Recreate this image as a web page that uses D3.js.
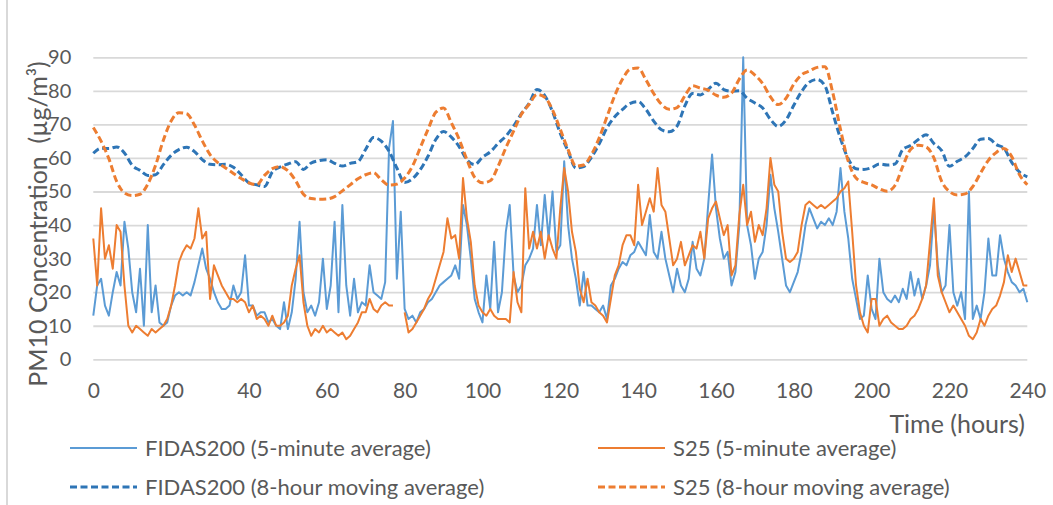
<!DOCTYPE html>
<html lang="en">
<head>
<meta charset="UTF-8">
<title>PM10 concentration</title>
<script src="https://cdn.jsdelivr.net/npm/d3@7"></script>
<style>
  body { margin: 0; background: #fff; }
  svg text { font-family: Lato, "Open Sans", sans-serif; fill: #595959; }
</style>
</head>
<body>
<svg id="chart" width="1053" height="505"></svg>
<script>
// 5-minute series, read once per hour from 0 to 240 h
var fidas5min = [
  13,22,24,16,13,20,26,22,41,33,
  20,14,27,10,40,14,22,11,10,11,
  16,19,20,19,20,19,23,28,33,27,
  24,20,17,15,15,16,22,18,20,31,
  16,16,13,14,14,11,12,10,9,17,
  9,14,24,41,20,14,16,13,17,30,
  15,22,41,14,46,22,13,24,14,17,
  16,28,20,19,18,23,63,71,24,44,
  15,12,13,11,14,15,17,18,20,22,
  23,24,25,28,24,46,40,30,18,14,
  11,25,15,35,14,20,38,46,25,20,
  22,28,30,33,46,34,49,36,50,32,
  34,59,40,30,24,16,26,16,16,15,
  14,16,12,22,24,27,29,28,31,32,
  35,33,31,43,32,30,38,30,25,20,
  27,22,20,24,35,27,25,30,46,61,
  45,36,30,32,22,26,40,90,40,34,
  24,30,32,40,55,45,38,30,22,20,
  23,26,32,40,45,42,39,41,40,42,
  40,44,57,44,36,24,18,12,13,25,
  15,12,30,20,18,17,19,17,21,18,
  26,19,24,18,22,28,45,28,20,22,
  40,20,16,20,12,50,12,16,12,20,
  36,25,25,37,30,26,23,22,20,21,
  17
];
var s25_5min = [
  36,22,45,30,34,27,40,38,22,10,
  8,10,9,8,7,9,8,9,10,12,
  16,22,29,32,34,33,36,45,36,38,
  18,28,25,22,20,18,18,17,18,17,
  14,16,12,13,12,10,13,10,10,11,
  13,22,27,31,17,10,7,9,8,10,
  8,9,8,7,8,6,7,9,11,14,
  14,18,15,14,16,17,16,16,null,null,
  14,8,9,11,13,15,18,20,24,28,
  32,42,36,37,30,54,42,35,22,16,
  14,13,15,13,12,12,12,11,26,17,
  14,51,33,38,33,38,30,37,33,30,
  45,57,50,38,32,21,17,24,17,16,
  14,13,11,18,25,28,34,37,37,34,
  52,40,44,48,44,57,46,44,36,28,
  30,35,28,31,34,33,38,30,42,45,
  47,42,37,40,25,28,43,52,40,44,
  35,40,37,45,60,52,50,38,30,29,
  30,32,40,46,47,46,45,46,45,46,
  47,48,50,51,53,38,22,14,10,8,
  18,18,10,12,13,11,10,9,9,10,
  12,13,15,18,22,35,48,25,20,17,
  14,16,14,12,10,7,6,8,12,10,
  13,15,16,19,23,31,26,30,26,22,
  22
];
// 8-hour moving averages, read every 2 h
var fidasMA = [
  61.4,62.9,62.8,63.3,61.5,57.8,56.3,54.8,55.0,58.0,
  60.8,62.5,63.2,61.9,59.5,58.1,58.0,58.1,57.2,55.0,
  52.6,52.0,51.5,55.8,57.3,58.2,58.9,56.6,58.5,59.2,
  59.5,58.4,57.6,58.4,58.9,62.6,66.1,65.0,62.0,57.0,
  52.7,53.8,56.5,60.5,65.5,67.9,66.2,63.4,59.5,58.0,
  60.2,61.8,64.3,66.5,69.5,73.2,76.3,80.4,78.6,73.8,
  67.3,62.0,57.0,57.4,60.2,64.2,69.0,72.3,74.5,76.3,
  76.8,74.5,71.0,68.4,67.8,69.5,75.5,79.2,78.8,80.5,
  82.3,80.4,79.9,80.0,77.8,76.4,74.9,71.5,69.4,71.3,
  75.7,79.8,82.6,83.4,81.5,73.5,65.8,59.7,56.8,56.6,
  57.1,58.2,57.9,58.2,62.5,63.7,65.5,66.9,64.3,62.2,
  57.5,59.0,60.3,62.8,65.6,65.8,64.0,62.9,58.7,55.8,
  54.4
];
var s25MA = [
  69.1,65.0,59.8,53.0,49.6,48.8,49.2,52.2,57.8,65.3,
  71.0,73.5,73.2,69.8,65.1,61.0,58.6,57.0,55.4,53.9,
  52.6,52.0,54.8,56.8,57.4,56.2,53.2,49.2,47.9,47.7,
  47.8,48.5,50.2,52.0,53.8,55.0,55.6,53.5,51.9,52.2,
  54.0,57.5,63.0,68.5,73.6,74.9,70.5,65.6,59.5,54.2,
  52.6,53.2,57.5,63.0,68.0,73.0,76.0,78.9,78.1,74.3,
  68.5,62.5,57.6,57.9,61.0,66.0,72.3,78.6,83.5,86.5,
  86.8,83.3,79.2,76.0,74.5,75.0,78.5,81.5,80.8,80.2,
  78.7,78.1,79.3,83.5,86.2,84.7,82.2,78.2,75.9,77.8,
  82.0,84.8,85.9,87.0,87.2,79.5,68.5,59.0,54.0,52.7,
  52.0,50.8,50.1,51.8,57.5,62.5,63.8,63.3,60.0,53.0,
  50.0,49.0,49.3,51.5,55.5,59.3,61.6,62.8,60.4,55.0,
  52.0
];
var xTicks = [0,20,40,60,80,100,120,140,160,180,200,220,240];
var yTicks = [0,10,20,30,40,50,60,70,80,90];
var seriesNames = ["FIDAS200 (5-minute average)", "S25 (5-minute average)",
                   "FIDAS200 (8-hour moving average)", "S25 (8-hour moving average)"];

var hours5 = d3.range(0, 241);
var hoursMA = d3.range(0, 241, 2);

var svg = d3.select("#chart");
// plot box (window.top is taken, so no bare "top")
var plotL = 93.3, plotR = 1027.3, plotT = 57.3, plotB = 359.3;

var x = d3.scaleLinear().domain([0, 240]).range([plotL, plotR]);
var y = d3.scaleLinear().domain([0, 90]).range([plotB, plotT]);

svg.append("rect").attr("width", 1053).attr("height", 505).attr("fill", "#fff");
// thin frame edge on the left of the picture
svg.append("line").attr("x1", 7).attr("x2", 7).attr("y1", 0).attr("y2", 505)
    .attr("stroke", "#d9d9d9").attr("stroke-width", 2);

// horizontal grid + y labels
var yAxis = svg.append("g").attr("transform", "translate(" + plotL + ",0)")
    .call(d3.axisLeft(y).tickValues(yTicks).tickSize(-(plotR - plotL)).tickPadding(22));
yAxis.select(".domain").remove();
yAxis.selectAll("line").attr("stroke", "#d9d9d9").attr("stroke-width", 1.8);
yAxis.selectAll("text").style("font-size", "20px").attr("fill", "#595959");

var xAxis = svg.append("g").attr("transform", "translate(0," + plotB + ")")
    .call(d3.axisBottom(x).tickValues(xTicks).tickSize(0).tickPadding(24));
xAxis.select(".domain").remove();
xAxis.selectAll("text").style("font-size", "21px").attr("fill", "#595959");

// axis titles
svg.append("text")
    .attr("transform", "translate(47,224) rotate(-90)")
    .attr("text-anchor", "middle")
    .style("font-size", "25px")
    .style("white-space", "pre")
    .text("PM10 Concentration  (\u00b5g/m\u00b3)");
svg.append("text")
    .attr("x", 1025).attr("y", 433)
    .attr("text-anchor", "end")
    .style("font-size", "25px")
    .text("Time (hours)");

var line = d3.line()
    .defined(function(d) { return d[1] != null; })
    .x(function(d) { return x(d[0]); })
    .y(function(d) { return y(d[1]); });
var smooth = d3.line()
    .curve(d3.curveMonotoneX)
    .x(function(d) { return x(d[0]); })
    .y(function(d) { return y(d[1]); });

var series = [
  {name: seriesNames[0], hrs: hours5, vals: fidas5min, color: "#5b9bd5", width: 2, dash: null, gen: line},
  {name: seriesNames[1], hrs: hours5, vals: s25_5min, color: "#ed7d31", width: 2, dash: null, gen: line},
  {name: seriesNames[2], hrs: hoursMA, vals: fidasMA, color: "#2e75b6", width: 3, dash: "7,3.5", gen: smooth},
  {name: seriesNames[3], hrs: hoursMA, vals: s25MA, color: "#ed7d31", width: 3, dash: "7,3.5", gen: smooth}
];

series.forEach(function(s) {
  var pts = s.hrs.map(function(h, i) { return [h, s.vals[i]]; });
  svg.append("path")
      .attr("d", s.gen(pts))
      .attr("fill", "none")
      .attr("stroke", s.color)
      .attr("stroke-width", s.width)
      .attr("stroke-linejoin", "round")
      .attr("stroke-dasharray", s.dash);
});

// legend, two columns and two rows
var legendPos = [[70, 448], [598, 448], [70, 487], [598, 487]];
series.forEach(function(s, i) {
  var p = legendPos[i];
  var g = svg.append("g").attr("transform", "translate(" + p[0] + "," + p[1] + ")");
  g.append("line").attr("x1", 0).attr("x2", 67).attr("y1", 0).attr("y2", 0)
      .attr("stroke", s.color).attr("stroke-width", s.width)
      .attr("stroke-dasharray", s.dash);
  g.append("text").attr("x", 75).attr("y", 7.5)
      .style("font-size", "22px")
      .text(s.name);
});
</script>
</body>
</html>
